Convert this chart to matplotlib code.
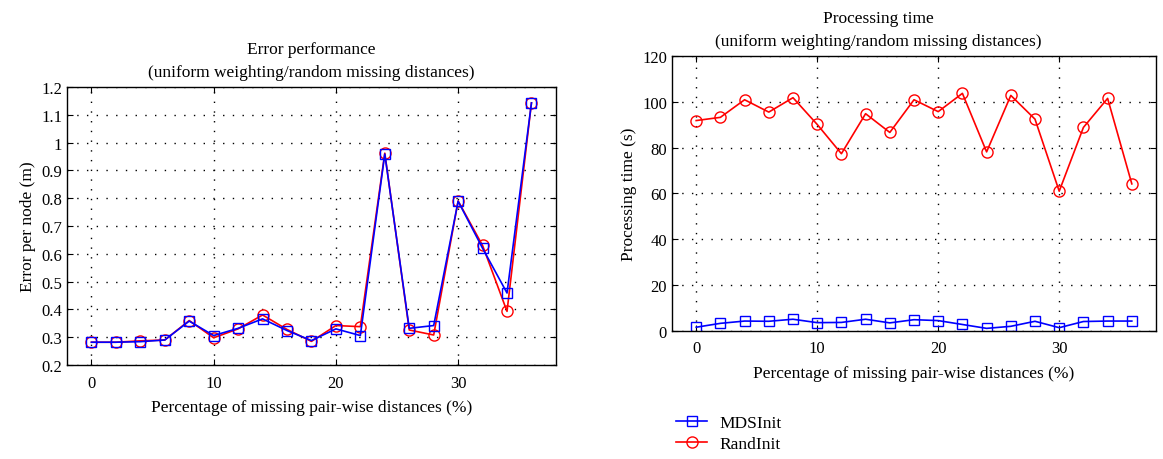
import numpy as np
import matplotlib.pyplot as plt

plt.rcParams['font.family'] = ['Liberation Serif', 'DejaVu Serif']

# percentage of missing pair-wise distances
missing = [0, 2, 4, 6, 8, 10, 12, 14, 16, 18, 20, 22, 24, 26, 28, 30, 32, 34, 36]

# error per node (m)
err_mds = [0.282, 0.282, 0.284, 0.290, 0.358, 0.306, 0.332, 0.366, 0.324, 0.288,
           0.330, 0.306, 0.959, 0.332, 0.342, 0.789, 0.620, 0.459, 1.143]
err_rand = [0.282, 0.282, 0.287, 0.290, 0.360, 0.298, 0.330, 0.380, 0.328, 0.285,
            0.342, 0.338, 0.962, 0.326, 0.308, 0.790, 0.630, 0.393, 1.143]

# processing time (s)
time_mds = [1.5, 3.2, 4.2, 4.1, 5.0, 3.5, 3.6, 5.0, 3.4, 4.8,
            4.4, 2.7, 1.0, 1.9, 4.1, 1.3, 4.0, 4.2, 4.2]
time_rand = [91.9, 93.3, 101.0, 95.6, 101.9, 90.2, 77.4, 94.9, 86.7, 101.0,
             95.8, 103.8, 78.2, 102.9, 92.5, 61.0, 88.9, 101.6, 64.2]

fs = 12.5
tfs = 12
fig = plt.figure(figsize=(11.63, 4.6), dpi=100)
ax1 = fig.add_axes([0.0576, 0.2043, 0.4204, 0.6044])
ax2 = fig.add_axes([0.5778, 0.279, 0.4162, 0.5964])

def style(ax):
    ax.grid(True, color='black', linestyle=(0, (1, 6)), linewidth=1.0)
    ax.tick_params(direction='in', top=True, right=True, labelsize=tfs, length=4)
    ax.tick_params(axis='x', pad=7)
    ax.set_xticks([0, 10, 20, 30])
    ax.set_xlim(-2, 38)
    for s in ax.spines.values():
        s.set_linewidth(1.0)

# 左图: 误差
ax1.plot(missing, err_rand, color='red', marker='o', mfc='none', ms=8, lw=1.2, label='RandInit')
ax1.plot(missing, err_mds, color='blue', marker='s', mfc='none', ms=7, lw=1.2, label='MDSInit')
style(ax1)
ax1.set_ylim(0.2, 1.2)
ax1.set_yticks(np.round(np.arange(0.2, 1.21, 0.1), 1))
ax1.set_yticklabels(['0.2', '0.3', '0.4', '0.5', '0.6', '0.7', '0.8', '0.9', '1', '1.1', '1.2'])
ax1.set_title('Error performance\n(uniform weighting/random missing distances)',
              fontsize=fs, pad=8, linespacing=1.6)
ax1.set_xlabel('Percentage of missing pair-wise distances (%)', fontsize=fs, labelpad=6)
ax1.set_ylabel('Error per node (m)', fontsize=fs)

# 右图: 处理时间
l1, = ax2.plot(missing, time_mds, color='blue', marker='s', mfc='none', ms=7, lw=1.2)
l2, = ax2.plot(missing, time_rand, color='red', marker='o', mfc='none', ms=8, lw=1.2)
style(ax2)
ax2.set_ylim(0, 120)
ax2.set_yticks(range(0, 121, 20))
ax2.set_title('Processing time\n(uniform weighting/random missing distances)',
              fontsize=fs, pad=8, linespacing=1.6, x=0.426)
ax2.set_xlabel('Percentage of missing pair-wise distances (%)', fontsize=fs, labelpad=6)
ax2.set_ylabel('Processing time (s)', fontsize=fs)

fig.legend([l1, l2], ['MDSInit', 'RandInit'], loc='upper left',
           bbox_to_anchor=(0.568, 0.13), frameon=False, fontsize=fs,
           handlelength=1.8, handletextpad=0.7, labelspacing=0.3)

fig.savefig('out.png', dpi=100)
